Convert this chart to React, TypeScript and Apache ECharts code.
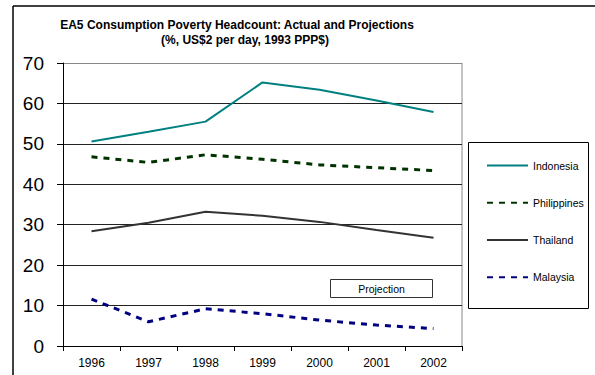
import React, { useEffect, useRef } from "react";
import * as echarts from "echarts";

const years = ["1996", "1997", "1998", "1999", "2000", "2001", "2002"];
const indonesia = [50.6, 53.0, 55.5, 65.2, 63.4, 60.7, 57.9];
const philippines = [46.8, 45.4, 47.3, 46.2, 44.8, 44.1, 43.4];
const thailand = [28.4, 30.5, 33.2, 32.2, 30.7, 28.7, 26.8];
const malaysia = [11.6, 6.0, 9.2, 8.0, 6.4, 5.2, 4.3];

const titleLine1 = "EA5 Consumption Poverty Headcount: Actual and Projections";
const titleLine2 = "(%, US$2 per day, 1993 PPP$)";
const noteText = "Projection";

const FONT = "'Liberation Sans', Arial, sans-serif";

export default function App() {
  const ref = useRef<HTMLDivElement>(null);

  useEffect(() => {
    if (!ref.current) return;
    const chart = echarts.init(ref.current, null, { renderer: "svg" });
    chart.setOption({
      animation: false,
      backgroundColor: "#ffffff",
      textStyle: { fontFamily: FONT },
      title: [
        {
          text: titleLine1,
          left: 232,
          top: 14,
          textAlign: "center",
          textStyle: { fontSize: 12, fontWeight: "bold", color: "#000", fontFamily: FONT },
        },
        {
          text: titleLine2,
          left: 240,
          top: 29,
          textAlign: "center",
          textStyle: { fontSize: 12, fontWeight: "bold", color: "#000", fontFamily: FONT },
        },
      ],
      legend: {
        orient: "vertical",
        left: 481,
        top: 155,
        itemWidth: 41,
        itemHeight: 14,
        itemGap: 26,
        itemStyle: { opacity: 0, borderWidth: 0 },
        textStyle: { fontSize: 10.5, color: "#000", fontFamily: FONT },
        data: ["Indonesia", "Philippines", "Thailand", "Malaysia"],
      },
      grid: { left: 63, right: 133, top: 63, bottom: 29 },
      xAxis: {
        type: "category",
        data: years,
        boundaryGap: true,
        axisLine: { lineStyle: { color: "#000", width: 1 } },
        axisTick: { show: true, length: 5, lineStyle: { color: "#000" } },
        axisLabel: { fontSize: 12, color: "#000", margin: 11, fontFamily: FONT },
        splitLine: { show: false },
      },
      yAxis: {
        type: "value",
        min: 0,
        max: 70,
        interval: 10,
        axisLine: { show: true, lineStyle: { color: "#000", width: 1 } },
        axisTick: { show: true, length: 6, lineStyle: { color: "#000" } },
        axisLabel: { fontSize: 19, color: "#000", margin: 19, fontFamily: FONT },
        splitLine: {
          show: true,
          lineStyle: {
            color: ["#000", "#222", "#222", "#222", "#222", "#222", "#222", "#888"],
            width: 1,
          },
        },
      },
      series: [
        {
          name: "Indonesia",
          type: "line",
          data: indonesia,
          symbol: "none",
          lineStyle: { color: "#008080", width: 2 },
          itemStyle: { color: "#008080" },
        },
        {
          name: "Philippines",
          type: "line",
          data: philippines,
          symbol: "none",
          lineStyle: { color: "#003300", width: 3, type: [6, 6] },
          itemStyle: { color: "#003300" },
        },
        {
          name: "Thailand",
          type: "line",
          data: thailand,
          symbol: "none",
          lineStyle: { color: "#333333", width: 2 },
          itemStyle: { color: "#333333" },
        },
        {
          name: "Malaysia",
          type: "line",
          data: malaysia,
          symbol: "none",
          lineStyle: { color: "#000080", width: 3, type: [6, 6] },
          itemStyle: { color: "#000080" },
        },
      ],
      graphic: [
        // outer frame: top and left edges
        { type: "line", shape: { x1: 13, y1: 6, x2: 595, y2: 6 }, style: { stroke: "#000", lineWidth: 1.5 } },
        { type: "line", shape: { x1: 13, y1: 6, x2: 13, y2: 375 }, style: { stroke: "#000", lineWidth: 1.5 } },
        // right edge of the plot area
        { type: "line", shape: { x1: 462, y1: 63, x2: 462, y2: 346 }, style: { stroke: "#888", lineWidth: 1 } },
        // legend frame
        {
          type: "rect",
          z: -1,
          shape: { x: 468.5, y: 142.5, width: 120, height: 166 },
          style: { fill: "#fff", stroke: "#000", lineWidth: 1 },
        },
        // projection note
        {
          type: "rect",
          shape: { x: 330.5, y: 279.5, width: 102, height: 18 },
          style: { fill: "#fff", stroke: "#333", lineWidth: 1 },
          z: 10,
        },
        {
          type: "text",
          x: 381.5,
          y: 288.5,
          z: 11,
          style: {
            text: noteText,
            fill: "#000",
            fontSize: 10.5,
            fontFamily: FONT,
            align: "center",
            verticalAlign: "middle",
          },
        },
      ],
    });
    return () => chart.dispose();
  }, []);

  return <div ref={ref} style={{ width: 595, height: 375, position: "absolute", left: 0, top: 0 }} />;
}
